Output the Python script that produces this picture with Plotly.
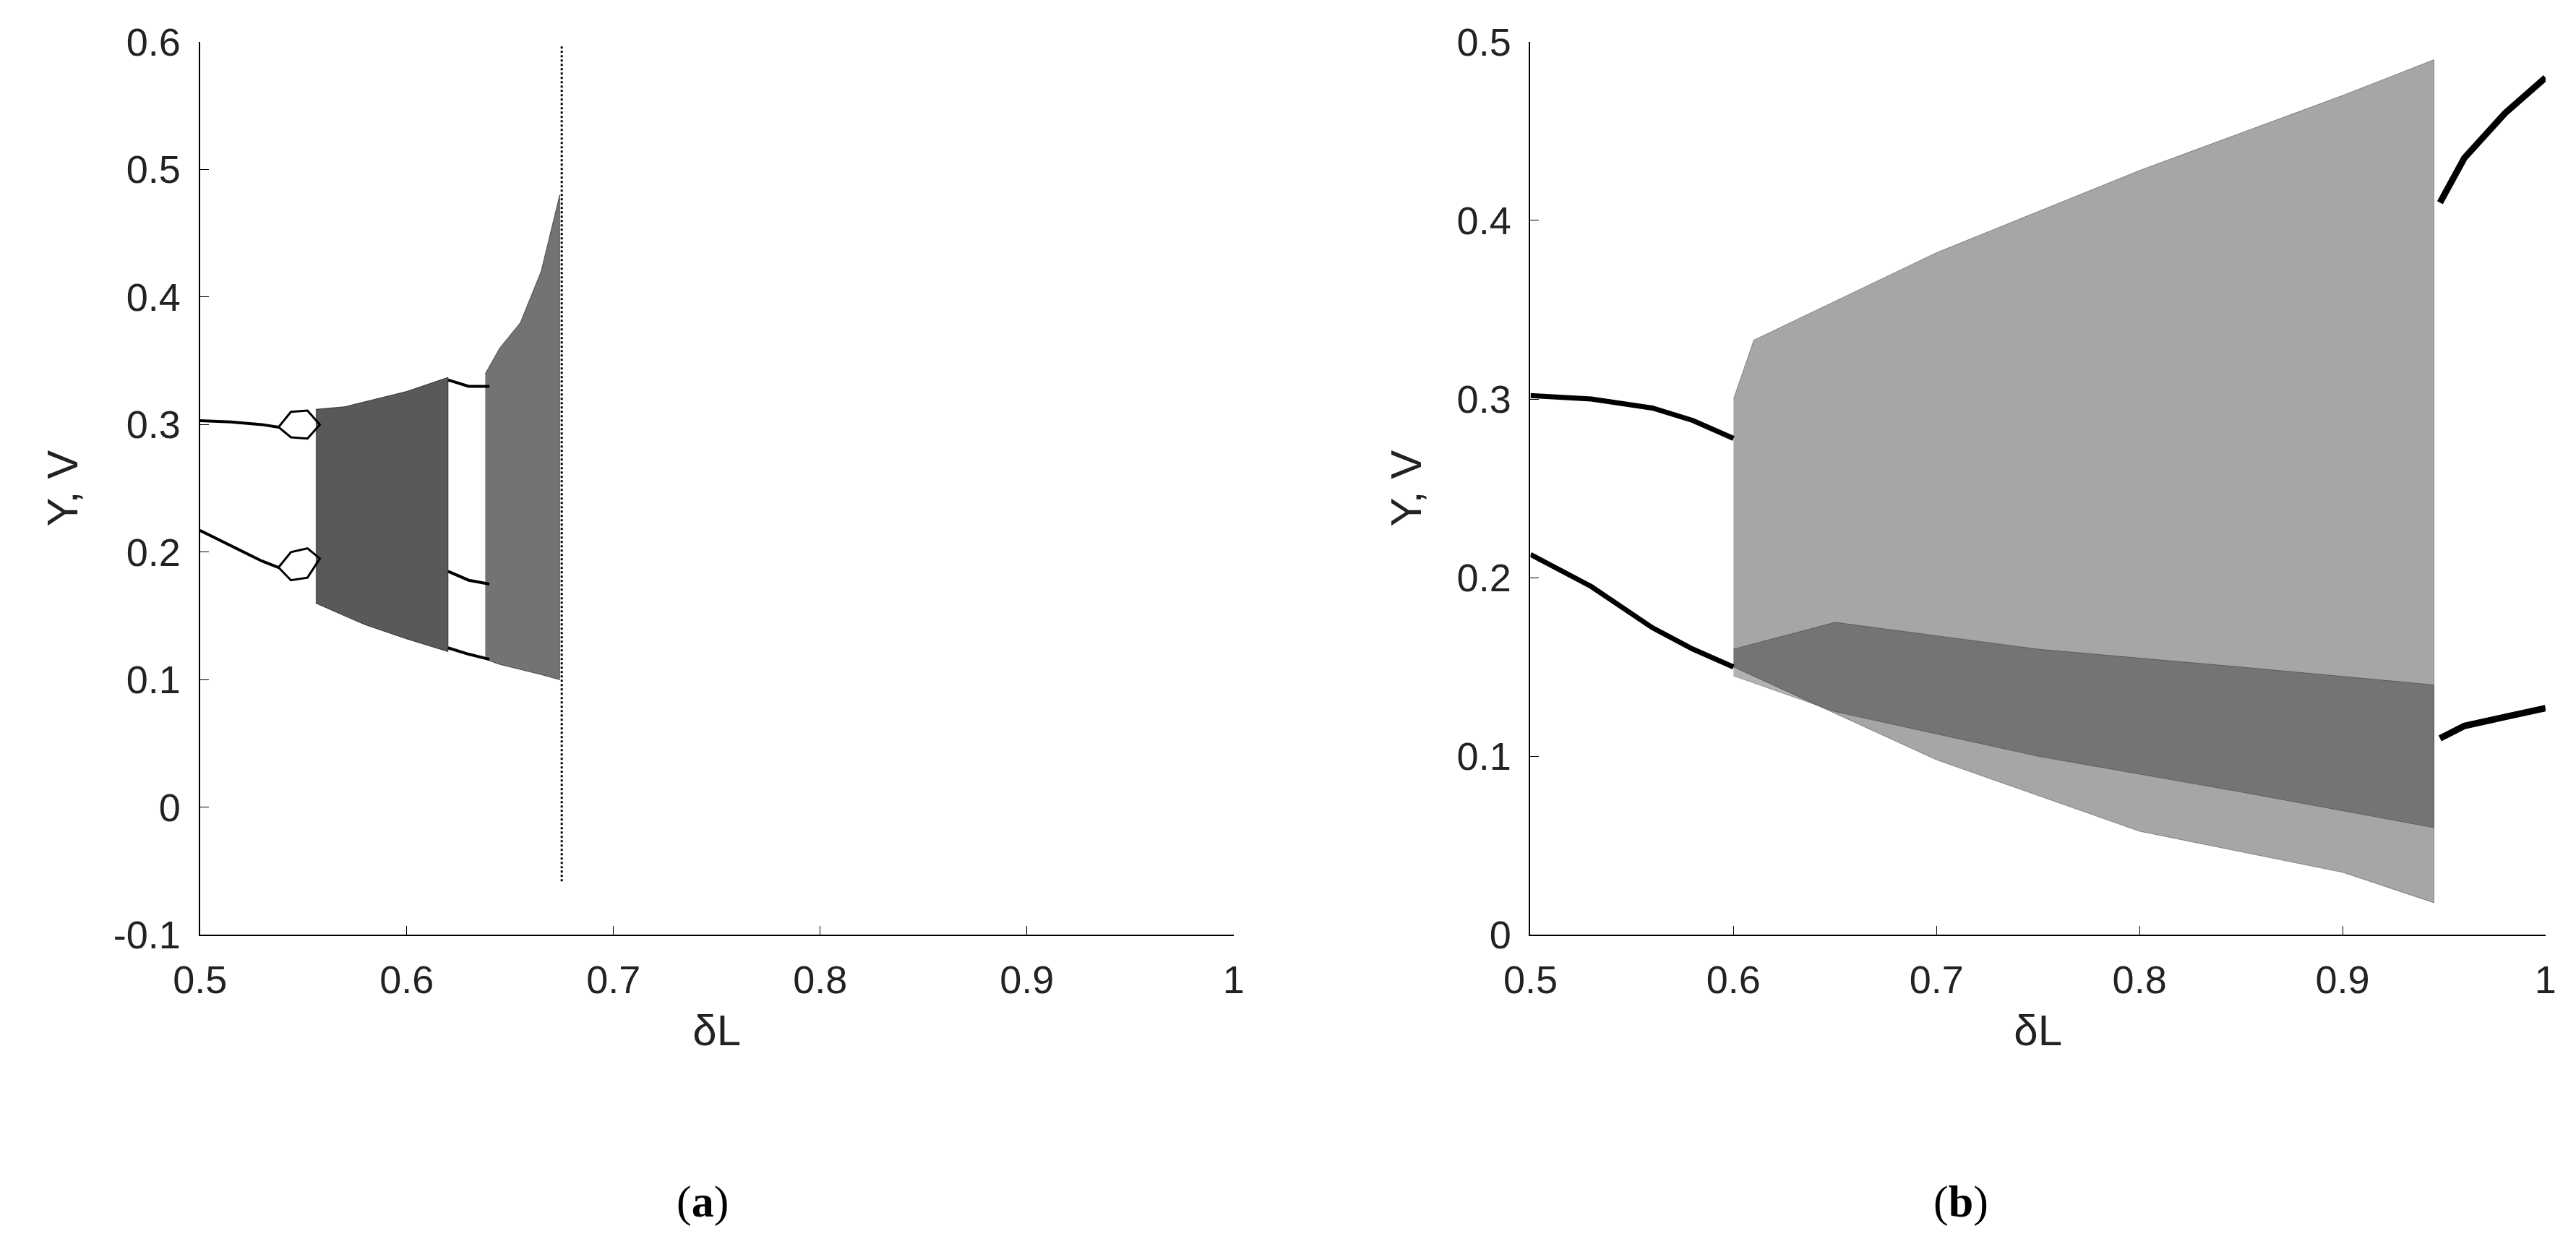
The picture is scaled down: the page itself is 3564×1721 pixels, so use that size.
import plotly.graph_objects as go

# ---- panel (a) values ----
a_br_up_x = [0.5, 0.515, 0.53, 0.538]
a_br_up_y = [0.303, 0.302, 0.300, 0.298]
a_br_lo_x = [0.5, 0.515, 0.53, 0.538]
a_br_lo_y = [0.217, 0.205, 0.193, 0.188]
a_bub_up_x = [0.538, 0.544, 0.552, 0.558, 0.552, 0.544, 0.538]
a_bub_up_y = [0.298, 0.310, 0.311, 0.300, 0.289, 0.290, 0.298]
a_bub_lo_x = [0.538, 0.544, 0.552, 0.558, 0.552, 0.544, 0.538]
a_bub_lo_y = [0.188, 0.200, 0.203, 0.195, 0.180, 0.178, 0.188]
a_ch1_x = [0.556, 0.57, 0.58, 0.60, 0.62, 0.62, 0.60, 0.58, 0.57, 0.556]
a_ch1_y = [0.312, 0.314, 0.318, 0.326, 0.337, 0.122, 0.132, 0.143, 0.150, 0.160]
a_win_top_x = [0.62, 0.63, 0.64]
a_win_top_y = [0.335, 0.33, 0.33]
a_win_mid_x = [0.62, 0.63, 0.64]
a_win_mid_y = [0.185, 0.178, 0.175]
a_win_bot_x = [0.62, 0.63, 0.64]
a_win_bot_y = [0.125, 0.12, 0.116]
a_ch2_x = [0.638, 0.645, 0.655, 0.665, 0.674, 0.674, 0.665, 0.655, 0.645, 0.638]
a_ch2_y = [0.34, 0.36, 0.38, 0.42, 0.48, 0.10, 0.104, 0.108, 0.112, 0.116]
a_vert_x = [0.675, 0.675]
a_vert_y = [-0.058, 0.598]

# ---- panel (b) values ----
b_br_up_x = [0.5, 0.53, 0.56, 0.58, 0.60]
b_br_up_y = [0.302, 0.300, 0.295, 0.288, 0.278]
b_br_lo_x = [0.5, 0.53, 0.56, 0.58, 0.60]
b_br_lo_y = [0.213, 0.195, 0.172, 0.160, 0.150]
b_ch_x = [0.60, 0.61, 0.70, 0.80, 0.90, 0.945, 0.945, 0.90, 0.80, 0.70, 0.60]
b_ch_y = [0.30, 0.333, 0.382, 0.428, 0.470, 0.490, 0.018, 0.035, 0.058, 0.098, 0.150]
b_dense_x = [0.60, 0.65, 0.75, 0.85, 0.945, 0.945, 0.85, 0.75, 0.65, 0.60]
b_dense_y = [0.16, 0.175, 0.16, 0.15, 0.14, 0.06, 0.08, 0.10, 0.125, 0.145]
b_post_up_x = [0.948, 0.96, 0.98, 1.0]
b_post_up_y = [0.41, 0.435, 0.46, 0.48]
b_post_lo_x = [0.948, 0.96, 0.98, 1.0]
b_post_lo_y = [0.11, 0.117, 0.122, 0.127]

fig = go.Figure()
def line(x, y, ax, w=4, dash=None):
    fig.add_trace(go.Scatter(x=x, y=y, mode="lines", xaxis=ax[0], yaxis=ax[1],
                             line=dict(color="black", width=w, dash=dash), showlegend=False))
def poly(x, y, ax, c):
    fig.add_trace(go.Scatter(x=x, y=y, mode="lines", fill="toself", fillcolor=c, xaxis=ax[0], yaxis=ax[1],
                             line=dict(color=c, width=1), showlegend=False))

A = ("x", "y"); B = ("x2", "y2")
line(a_br_up_x, a_br_up_y, A); line(a_br_lo_x, a_br_lo_y, A)
line(a_bub_up_x, a_bub_up_y, A, 3); line(a_bub_lo_x, a_bub_lo_y, A, 3)
poly(a_ch1_x, a_ch1_y, A, "rgba(0,0,0,0.65)")
line(a_win_top_x, a_win_top_y, A); line(a_win_mid_x, a_win_mid_y, A); line(a_win_bot_x, a_win_bot_y, A)
poly(a_ch2_x, a_ch2_y, A, "rgba(0,0,0,0.55)")
line(a_vert_x, a_vert_y, A, 3, "dot")

line(b_br_up_x, b_br_up_y, B, 7); line(b_br_lo_x, b_br_lo_y, B, 7)
poly(b_ch_x, b_ch_y, B, "rgba(0,0,0,0.35)")
poly(b_dense_x, b_dense_y, B, "rgba(0,0,0,0.3)")
line(b_post_up_x, b_post_up_y, B, 9); line(b_post_lo_x, b_post_lo_y, B, 9)

tf = dict(family="Liberation Sans, Arial", size=54, color="#222")
ttl = dict(family="Liberation Sans, Arial", size=60, color="#222")
common = dict(showgrid=False, zeroline=False, showline=True, linecolor="black", linewidth=2,
              ticks="inside", ticklen=12, tickcolor="black", tickfont=tf, mirror=False,
              ticklabelstandoff=14)
fig.update_layout(
    width=3564, height=1721, paper_bgcolor="white", plot_bgcolor="white",
    margin=dict(l=0, r=0, t=40, b=0),
    xaxis=dict(domain=[0.0657, 0.473], range=[0.5, 1], anchor="y",
               tickvals=[0.5, 0.6, 0.7, 0.8, 0.9, 1], ticktext=["0.5", "0.6", "0.7", "0.8", "0.9", "1"],
               title=dict(text="δL", font=ttl, standoff=20), **common),
    yaxis=dict(domain=[0.2457, 0.994], range=[-0.1, 0.6], anchor="x",
               tickvals=[-0.1, 0, 0.1, 0.2, 0.3, 0.4, 0.5, 0.6],
               ticktext=["-0.1", "0", "0.1", "0.2", "0.3", "0.4", "0.5", "0.6"],
               title=dict(text="Y, V", font=ttl, standoff=30), **common),
    xaxis2=dict(domain=[0.590, 0.990], range=[0.5, 1], anchor="y2",
                tickvals=[0.5, 0.6, 0.7, 0.8, 0.9, 1], ticktext=["0.5", "0.6", "0.7", "0.8", "0.9", "1"],
                title=dict(text="δL", font=ttl, standoff=20), **common),
    yaxis2=dict(domain=[0.2457, 0.994], range=[0, 0.5], anchor="x2",
                tickvals=[0, 0.1, 0.2, 0.3, 0.4, 0.5], ticktext=["0", "0.1", "0.2", "0.3", "0.4", "0.5"],
                title=dict(text="Y, V", font=ttl, standoff=30), **common),
    annotations=[
        dict(text="(<b>a</b>)", x=0.253, y=0.0, xref="paper", yref="paper", yanchor="bottom",
             showarrow=False, font=dict(family="Liberation Serif", size=62, color="black")),
        dict(text="(<b>b</b>)", x=0.771, y=0.0, xref="paper", yref="paper", yanchor="bottom",
             showarrow=False, font=dict(family="Liberation Serif", size=62, color="black")),
    ],
)
fig.write_html("out.html")
